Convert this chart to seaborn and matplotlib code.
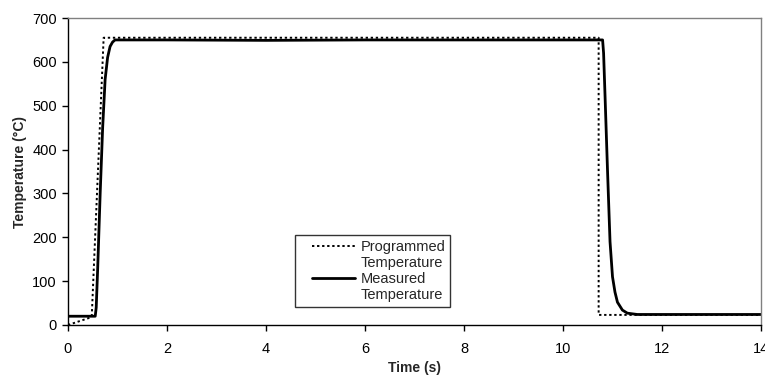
import matplotlib
matplotlib.use("Agg")
import matplotlib.pyplot as plt
import seaborn as sns
import pandas as pd
import numpy as np
from matplotlib.lines import Line2D
from matplotlib.legend_handler import HandlerLine2D

# Programmed temperature profile
prog_time = [0.0, 0.45, 0.48, 0.72, 10.72, 10.72, 14.0]
prog_temp = [0, 17, 20, 655, 655, 23, 23]

# Measured temperature
meas_time = [0.0, 0.55, 0.57, 0.60, 0.65, 0.70, 0.75, 0.80, 0.85, 0.90, 0.95,
             2.0, 4.0, 6.0, 8.0, 10.0, 10.80, 10.82, 10.85, 10.90, 10.95, 11.00,
             11.05, 11.10, 11.20, 11.30, 11.50, 14.0]
meas_temp = [20, 20, 40, 130, 300, 450, 560, 610, 635, 645, 650,
             650, 649, 650, 650, 650, 650, 620, 520, 350, 190, 110,
             75, 52, 34, 27, 24, 24]

x_ticks = [0, 2, 4, 6, 8, 10, 12, 14]
y_ticks = [0, 100, 200, 300, 400, 500, 600, 700]

sns.set_theme(style="white")
plt.rcParams['font.family'] = ['Liberation Sans', 'DejaVu Sans']

fig = plt.figure(figsize=(7.65, 3.81), dpi=100)
ax = fig.add_axes([68/765, 1-325/381, (761-68)/765, (325-18)/381])

df_p = pd.DataFrame({"t": prog_time, "T": prog_temp})
df_m = pd.DataFrame({"t": meas_time, "T": meas_temp})
sns.lineplot(data=df_p, x="t", y="T", ax=ax, color="black", linewidth=1.4,
             linestyle=(0, (1.2, 1.4)), sort=False, estimator=None)
sns.lineplot(data=df_m, x="t", y="T", ax=ax, color="black", linewidth=2.0,
             sort=False, estimator=None)

ax.set_xlim(0, 14)
ax.set_ylim(0, 700)
ax.set_xticks(x_ticks)
ax.set_yticks(y_ticks)
ax.tick_params(axis="both", direction="out", length=4, width=1, color="black",
               labelsize=10.5, labelcolor="black", pad=4)
ax.tick_params(axis="x", pad=8)
ax.tick_params(bottom=True, left=True)
ax.set_xlabel("Time (s)", fontsize=10, fontweight="bold", labelpad=4)
ax.set_ylabel("Temperature (°C)", fontsize=10, fontweight="bold", labelpad=4)

for s in ["left", "bottom"]:
    ax.spines[s].set_color("black")
    ax.spines[s].set_linewidth(1.0)
for s in ["top", "right"]:
    ax.spines[s].set_color("#808080")
    ax.spines[s].set_linewidth(1.0)


class OffsetHandler(HandlerLine2D):
    """Draws the legend line with an empty gap at its left side."""
    def create_artists(self, legend, orig_handle, xdescent, ydescent,
                       width, height, fontsize, trans):
        artists = super().create_artists(legend, orig_handle, xdescent, ydescent,
                                         width, height, fontsize, trans)
        for a in artists:
            x = np.asarray(a.get_xdata(), dtype=float)
            if len(x) >= 2:
                x0, x1 = x.min(), x.max()
                shift = (x1 - x0) * 12 / 55
                a.set_xdata(np.linspace(x0 + shift, x1, len(x)))
        return artists


h_prog = Line2D([], [], color="black", linewidth=1.4, linestyle=(0, (1.2, 1.4)))
h_meas = Line2D([], [], color="black", linewidth=2.0)
h_b1 = Line2D([], [], color="none")
h_b2 = Line2D([], [], color="none")
handles = [h_prog, h_b1, h_meas, h_b2]
labels = ["Programmed", "Temperature", "Measured", "Temperature"]
leg = ax.legend(handles, labels, loc="upper left",
                bbox_to_anchor=(295/765, 1-235/381), bbox_transform=fig.transFigure,
                frameon=True, fancybox=False, edgecolor="black", fontsize=10.5,
                handlelength=3.77, handletextpad=0.4, labelspacing=0.15,
                borderpad=0.33, borderaxespad=0,
                handler_map={h_prog: OffsetHandler(), h_meas: OffsetHandler()})
leg.get_frame().set_linewidth(1.0)

fig.savefig("out.png", dpi=100, facecolor="white")
